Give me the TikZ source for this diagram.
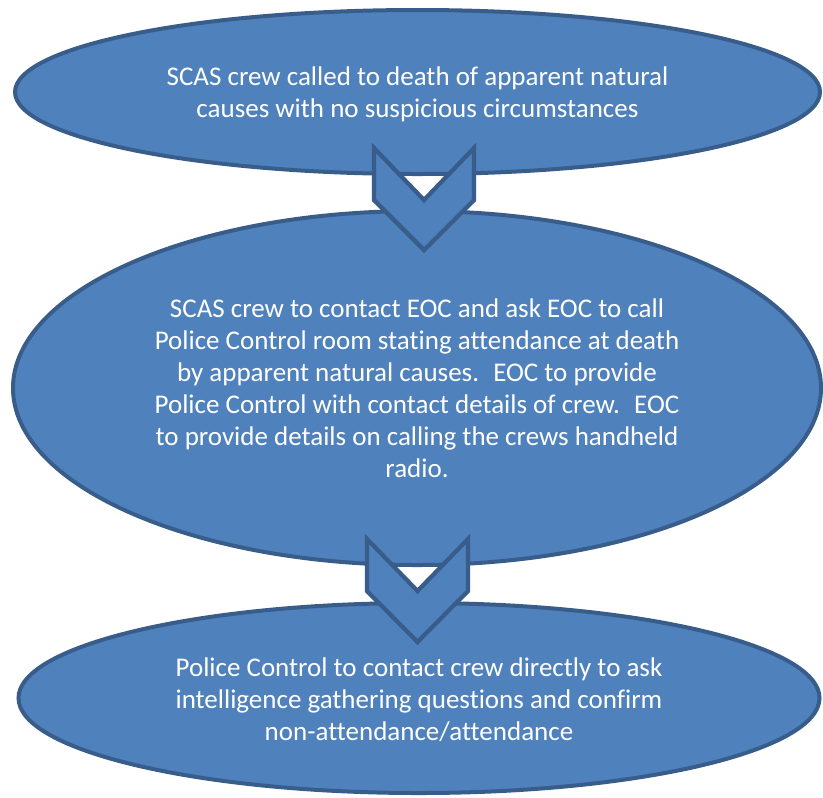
\documentclass[tikz,border=0pt]{standalone}
\usepackage{fontspec}
\setmainfont{Carlito}[Ligatures=NoCommon]
\usetikzlibrary{shapes.geometric}
\definecolor{boxfill}{HTML}{4F81BD}
\definecolor{boxline}{HTML}{385D8A}
\tikzset{
  bubble/.style={ellipse, draw=boxline, fill=boxfill, line width=3pt, inner sep=0pt},
  chevron/.style={draw=boxline, fill=boxfill, line width=3.2pt, line join=miter},
  caption/.style={text=white, align=center, anchor=base, inner sep=0pt,
    font=\fontsize{20.25pt}{24pt}\selectfont}
}
\begin{document}
\begin{tikzpicture}[x=0.75pt,y=-0.75pt]
\useasboundingbox (0,0) rectangle (823,797);
% ellipses
\node[bubble, minimum width=603.75pt, minimum height=123pt] (e1) at (417.5,92) {};
\node[bubble, minimum width=606pt, minimum height=265.5pt] (e2) at (417,388) {};
\node[bubble, minimum width=600.75pt, minimum height=142.5pt] (e3) at (419,698) {};
% chevrons
\coordinate (c1a) at (374,148);
\coordinate (c1b) at (424,200);
\coordinate (c1c) at (474,148);
\coordinate (c1d) at (474,200);
\coordinate (c1e) at (424,250);
\coordinate (c1f) at (374,200);
\draw[chevron] (c1a) -- (c1b) -- (c1c) -- (c1d) -- (c1e) -- (c1f) -- cycle;
\coordinate (c2a) at (367,539);
\coordinate (c2b) at (417.5,591);
\coordinate (c2c) at (468,539);
\coordinate (c2d) at (468,591);
\coordinate (c2e) at (417.5,642);
\coordinate (c2f) at (367,591);
\draw[chevron] (c2a) -- (c2b) -- (c2c) -- (c2d) -- (c2e) -- (c2f) -- cycle;
% texts (anchor = baseline of last line)
\node[caption] (t1) at (417.5,117.7) {SCAS crew called to death of apparent natural\\causes with no suspicious circumstances};
\node[caption] (t2) at (417,477.5) {SCAS crew to contact EOC and ask EOC to call\\Police Control room stating attendance at death\\by apparent natural causes.~ EOC to provide\\Police Control with contact details of crew.~ EOC\\to provide details on calling the crews handheld\\radio.};
\node[caption] (t3) at (419,740) {Police Control to contact crew directly to ask\\intelligence gathering questions and confirm\\non-attendance/attendance};
\end{tikzpicture}
\end{document}
